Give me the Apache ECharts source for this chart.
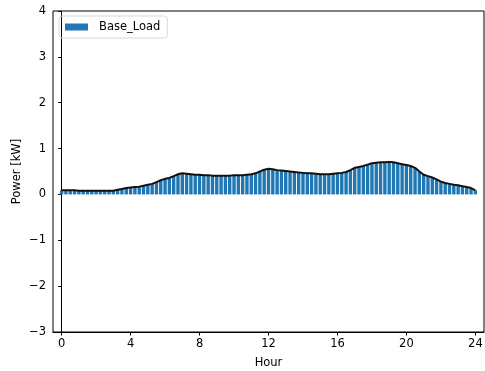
<!DOCTYPE html>
<html>
<head>
<meta charset="utf-8">
<script src="https://cdn.jsdelivr.net/npm/echarts@6/dist/echarts.min.js"></script>
<style>
  html, body { margin: 0; padding: 0; background: #fff; }
  #chart { width: 485px; height: 371px; }
</style>
</head>
<body>
<div id="chart"></div>
<script>
// hour of day, every 15 min
const hours = [];
for (let i = 0; i <= 96; i++) hours.push(i / 4);

// base load [kW]
const baseLoad = [
  0.09, 0.09, 0.09, 0.09,
  0.08, 0.08, 0.08, 0.08,
  0.08, 0.08, 0.08, 0.08,
  0.08, 0.10, 0.12, 0.14,
  0.15, 0.16, 0.17, 0.19,
  0.21, 0.23, 0.27, 0.31,
  0.34, 0.36, 0.40, 0.44,
  0.46, 0.45, 0.44, 0.43,
  0.43, 0.42, 0.42, 0.41,
  0.41, 0.41, 0.41, 0.41,
  0.42, 0.42, 0.42, 0.43,
  0.44, 0.46, 0.50, 0.54,
  0.56, 0.55, 0.53, 0.52,
  0.51, 0.50, 0.49, 0.48,
  0.47, 0.46, 0.46, 0.45,
  0.44, 0.44, 0.44, 0.45,
  0.46, 0.47, 0.49, 0.53,
  0.58, 0.60, 0.62, 0.65,
  0.68, 0.69, 0.70, 0.70,
  0.71, 0.70, 0.68, 0.66,
  0.64, 0.62, 0.58, 0.50,
  0.43, 0.40, 0.37, 0.33,
  0.28, 0.25, 0.23, 0.21,
  0.20, 0.18, 0.16, 0.14,
  0.09
];

const xTicks = [0, 4, 8, 12, 16, 20, 24];

const pts = hours.map((h, i) => [h, baseLoad[i]]);
const font = 'DejaVu Sans';
const fs = 11.5;

const myChart = echarts.init(document.getElementById('chart'));
const option = {
  animation: false,
  textStyle: { fontFamily: font },
  grid: {
    left: 53, right: 1, top: 11, bottom: 39,
    outerBoundsMode: 'none',
    show: true, borderColor: '#000', borderWidth: 1
  },
  legend: {
    left: 59, top: 16,
    data: ['Base_Load'],
    icon: 'rect',
    itemWidth: 23, itemHeight: 7,
    itemGap: 8,
    padding: [5, 7, 5, 6],
    borderColor: '#d8d8d8', borderWidth: 1, borderRadius: 3,
    textStyle: { fontFamily: font, fontSize: fs, color: '#000', padding: [0, 0, 0, 6] }
  },
  xAxis: {
    type: 'value',
    min: -0.5, max: 24.5,
    name: 'Hour', nameLocation: 'middle', nameGap: 25,
    nameMoveOverlap: false,
    nameTextStyle: { fontFamily: font, fontSize: fs, color: '#000' },
    splitLine: { show: false },
    axisLine: { show: true, onZero: false, lineStyle: { color: '#000', width: 1 } },
    axisTick: { show: true, length: 3.5, customValues: xTicks, lineStyle: { color: '#000' } },
    axisLabel: { customValues: xTicks, margin: 6, fontSize: fs, color: '#000', fontFamily: font }
  },
  yAxis: {
    type: 'value',
    min: -3, max: 4, interval: 1,
    name: 'Power [kW]', nameLocation: 'middle', nameGap: 30,
    nameMoveOverlap: false,
    nameTextStyle: { fontFamily: font, fontSize: fs, color: '#000' },
    splitLine: { show: false },
    axisLine: { show: true, lineStyle: { color: '#000', width: 1 } },
    axisTick: { show: true, length: 3.5, lineStyle: { color: '#000' } },
    axisLabel: {
      margin: 7, fontSize: fs, color: '#000', fontFamily: font,
      formatter: v => String(v).replace('-', '\u2212')
    }
  },
  series: [
    {
      name: 'Base_Load',
      type: 'bar',
      data: pts,
      barWidth: 3.4,
      itemStyle: { color: '#1f77b4' }
    },
    {
      name: 'line',
      type: 'line',
      data: pts,
      showSymbol: false,
      lineStyle: { color: '#111', width: 2 },
      z: 3
    }
  ]
};
option && myChart.setOption(option);
</script>
</body>
</html>
